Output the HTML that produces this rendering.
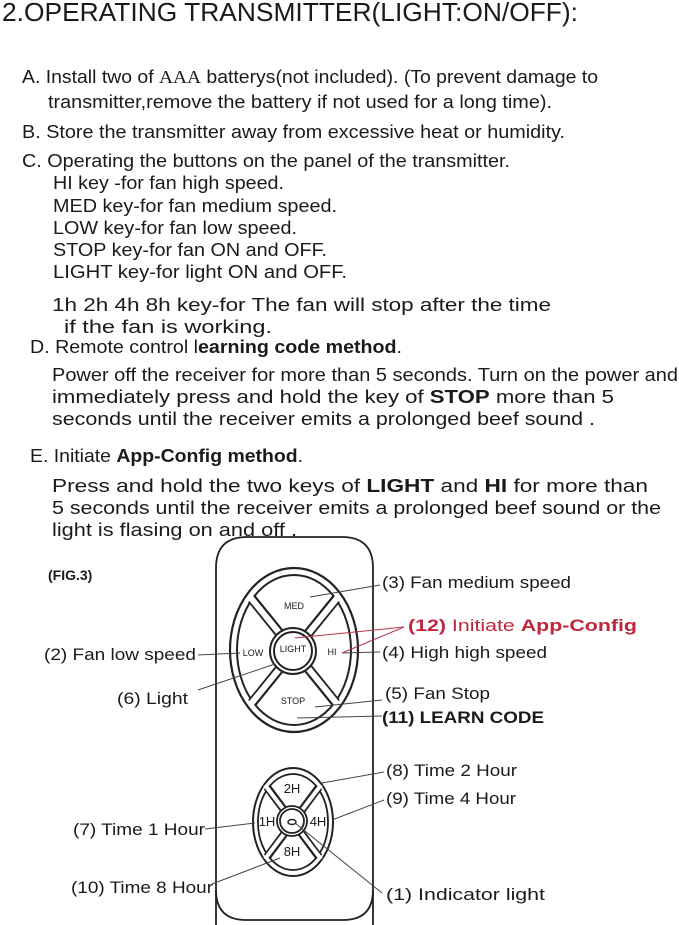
<!DOCTYPE html>
<html><head><meta charset="utf-8"><style>
html,body{margin:0;padding:0;background:#fff;}
svg{display:block;}
text{font-family:"Liberation Sans",Arial,sans-serif;fill:#1a1a1a;}
</style></head><body>
<svg width="679" height="925" viewBox="0 0 679 925" xmlns="http://www.w3.org/2000/svg">
<g font-size="26">
<text x="2" y="21" textLength="576" lengthAdjust="spacingAndGlyphs">2.OPERATING TRANSMITTER(LIGHT:ON/OFF):</text>
</g>
<g font-size="18" lengthAdjust="spacingAndGlyphs">
<text x="22" y="83" textLength="576" lengthAdjust="spacingAndGlyphs">A. Install two of <tspan font-family="Liberation Serif">AAA</tspan> batterys(not included). (To prevent damage to</text>
<text x="48" y="108" textLength="504" lengthAdjust="spacingAndGlyphs">transmitter,remove the battery if not used for a long time).</text>
<text x="22" y="138" textLength="543" lengthAdjust="spacingAndGlyphs">B. Store the transmitter away from excessive heat or humidity.</text>
<text x="22" y="167" textLength="488" lengthAdjust="spacingAndGlyphs">C. Operating the buttons on the panel of the transmitter.</text>
<text x="53" y="189" textLength="231" lengthAdjust="spacingAndGlyphs">HI key -for fan high speed.</text>
<text x="53" y="212" textLength="284" lengthAdjust="spacingAndGlyphs">MED key-for fan medium speed.</text>
<text x="53" y="234" textLength="244" lengthAdjust="spacingAndGlyphs">LOW key-for fan low speed.</text>
<text x="53" y="256" textLength="274" lengthAdjust="spacingAndGlyphs">STOP key-for fan ON and OFF.</text>
<text x="53" y="278" textLength="294" lengthAdjust="spacingAndGlyphs">LIGHT  key-for light ON and OFF.</text>
<text x="52" y="311" textLength="499" lengthAdjust="spacingAndGlyphs">1h 2h 4h 8h key-for The  fan  will  stop  after  the  time</text>
<text x="64" y="333" textLength="208" lengthAdjust="spacingAndGlyphs">if  the  fan  is  working.</text>
<text x="30" y="353" textLength="372" lengthAdjust="spacingAndGlyphs">D. Remote control l<tspan font-weight="bold">earning code method</tspan>.</text>
<text x="52" y="381" textLength="626" lengthAdjust="spacingAndGlyphs">Power off the receiver  for more than 5 seconds. Turn on the power and</text>
<text x="52" y="403" textLength="562" lengthAdjust="spacingAndGlyphs">immediately press and hold  the key of  <tspan font-weight="bold">STOP</tspan>   more than 5</text>
<text x="52" y="425" textLength="543" lengthAdjust="spacingAndGlyphs">seconds until the receiver emits a prolonged beef sound .</text>
<text x="30" y="462" textLength="273" lengthAdjust="spacingAndGlyphs">E. Initiate <tspan font-weight="bold">App-Config method</tspan>.</text>
<text x="52" y="492" textLength="596" lengthAdjust="spacingAndGlyphs">Press and hold  the  two keys of  <tspan font-weight="bold">LIGHT</tspan>  and  <tspan font-weight="bold">HI</tspan>  for  more than</text>
<text x="52" y="514" textLength="609" lengthAdjust="spacingAndGlyphs">5 seconds until the receiver emits a prolonged beef sound or the</text>
<text x="52" y="536" textLength="245" lengthAdjust="spacingAndGlyphs">light is flasing on and  off .</text>
</g>
<text x="48" y="580" font-size="14" font-weight="bold">(FIG.3)</text>

<!-- remote body -->
<path d="M216 925 V568 Q216 537 247 537 H342 Q373 537 373 568 V925" fill="#fff" stroke="#222" stroke-width="1.8"/>
<path d="M216 890 Q216 920 246 920 H343 Q373 920 373 890" fill="none" stroke="#222" stroke-width="1.8"/>

<!-- big pad -->
<ellipse cx="294" cy="650" rx="64" ry="82" fill="#fff" stroke="#222" stroke-width="2.2"/>
<ellipse cx="294" cy="650" rx="57" ry="75" fill="#fff" stroke="#222" stroke-width="2"/>
<g stroke-linecap="butt">
<g stroke="#222" stroke-width="10">
<line x1="294" y1="651" x2="252" y2="599"/><line x1="294" y1="651" x2="336" y2="599"/>
<line x1="294" y1="651" x2="252" y2="703"/><line x1="294" y1="651" x2="336" y2="703"/>
</g>
<g stroke="#fff" stroke-width="6">
<line x1="294" y1="651" x2="250" y2="597"/><line x1="294" y1="651" x2="338" y2="597"/>
<line x1="294" y1="651" x2="250" y2="705"/><line x1="294" y1="651" x2="338" y2="705"/>
</g>
</g>
<circle cx="293" cy="651" r="23" fill="#fff" stroke="#222" stroke-width="2"/>
<circle cx="293" cy="651" r="19" fill="#fff" stroke="#222" stroke-width="2"/>
<g font-size="9" text-anchor="middle">
<text x="294" y="609">MED</text>
<text x="293" y="652">LIGHT</text>
<text x="253" y="656">LOW</text>
<text x="332" y="655">HI</text>
<text x="293" y="704">STOP</text>
</g>

<!-- small pad -->
<ellipse cx="293" cy="822" rx="40" ry="54" fill="#fff" stroke="#222" stroke-width="2"/>
<ellipse cx="293" cy="822" rx="35" ry="48" fill="#fff" stroke="#222" stroke-width="1.8"/>
<g stroke="#222" stroke-width="8">
<line x1="293" y1="822" x2="267" y2="787"/><line x1="293" y1="822" x2="319" y2="787"/>
<line x1="293" y1="822" x2="267" y2="857"/><line x1="293" y1="822" x2="319" y2="857"/>
</g>
<g stroke="#fff" stroke-width="4">
<line x1="293" y1="822" x2="265" y2="785"/><line x1="293" y1="822" x2="321" y2="785"/>
<line x1="293" y1="822" x2="265" y2="859"/><line x1="293" y1="822" x2="321" y2="859"/>
</g>
<circle cx="292" cy="821" r="15" fill="#fff" stroke="#222" stroke-width="1.8"/>
<circle cx="292" cy="821" r="12" fill="#fff" stroke="#222" stroke-width="1.8"/>
<ellipse cx="292" cy="822" rx="4" ry="2.5" fill="none" stroke="#222" stroke-width="1.5"/>
<g font-size="13" text-anchor="middle">
<text x="292" y="793">2H</text>
<text x="267" y="826">1H</text>
<text x="318" y="826">4H</text>
<text x="292" y="856">8H</text>
</g>

<!-- leader lines -->
<g stroke="#444" stroke-width="1">
<line x1="310" y1="597" x2="380" y2="585"/>
<line x1="198" y1="655" x2="240" y2="653"/>
<line x1="342" y1="653" x2="380" y2="652"/>
<line x1="198" y1="690" x2="275" y2="664"/>
<line x1="315" y1="707" x2="382" y2="700"/>
<line x1="297" y1="718" x2="382" y2="716"/>
<line x1="322" y1="783" x2="384" y2="772"/>
<line x1="332" y1="820" x2="384" y2="800"/>
<line x1="205" y1="829" x2="255" y2="823"/>
<line x1="212" y1="884" x2="280" y2="858"/>
<line x1="295" y1="823" x2="382" y2="893"/>
</g>
<g stroke="#b5344a" stroke-width="1">
<line x1="404" y1="627" x2="295" y2="638"/>
<line x1="404" y1="627" x2="342" y2="653"/>
</g>

<!-- labels -->
<g font-size="17">
<text x="382" y="588" textLength="189" lengthAdjust="spacingAndGlyphs">(3) Fan medium speed</text>
<text x="408" y="631" textLength="229" lengthAdjust="spacingAndGlyphs" style="fill:#c0263a"><tspan font-weight="bold" style="fill:#c0263a">(12)</tspan> Initiate <tspan font-weight="bold" style="fill:#c0263a">App-Config</tspan></text>
<text x="44" y="660" textLength="152" lengthAdjust="spacingAndGlyphs">(2) Fan low speed</text>
<text x="382" y="658" textLength="165" lengthAdjust="spacingAndGlyphs">(4) High high speed</text>
<text x="117" y="704" textLength="71" lengthAdjust="spacingAndGlyphs">(6) Light</text>
<text x="385" y="699" textLength="105" lengthAdjust="spacingAndGlyphs">(5) Fan Stop</text>
<text x="382" y="723" font-weight="bold" textLength="162" lengthAdjust="spacingAndGlyphs">(11) LEARN CODE</text>
<text x="386" y="776" textLength="131" lengthAdjust="spacingAndGlyphs">(8) Time 2 Hour</text>
<text x="386" y="804" textLength="130" lengthAdjust="spacingAndGlyphs">(9) Time 4 Hour</text>
<text x="73" y="835" textLength="132" lengthAdjust="spacingAndGlyphs">(7) Time 1 Hour</text>
<text x="71" y="893" textLength="142" lengthAdjust="spacingAndGlyphs">(10) Time 8 Hour</text>
<text x="386" y="900" textLength="159" lengthAdjust="spacingAndGlyphs">(1) Indicator  light</text>
</g>
</svg>
</body></html>
